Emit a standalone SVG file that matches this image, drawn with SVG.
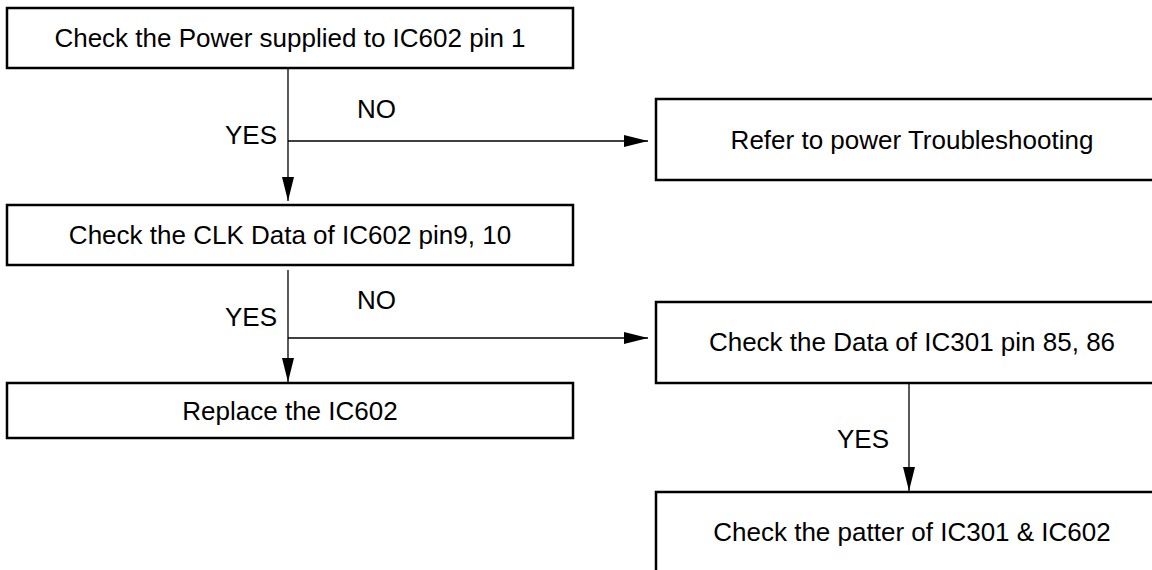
<svg xmlns="http://www.w3.org/2000/svg" width="1152" height="570" viewBox="0 0 1152 570">
<defs>
<style>
.box{fill:#fff;stroke:#000;stroke-width:2.5}
.lbl{font-family:"Liberation Sans",Arial,sans-serif;font-size:26px;fill:#000}
.c{text-anchor:middle}
.conn{stroke:#000;stroke-width:1.3;fill:none}
</style>
<marker id="ah" markerUnits="userSpaceOnUse" markerWidth="24" markerHeight="12" refX="24" refY="6" orient="auto" viewBox="0 0 24 12">
<path d="M0,0 L24,6 L0,12 z" fill="#000"/>
</marker>
</defs>
<rect width="1152" height="570" fill="#fff"/>
<g id="connectors">
<line class="conn" x1="288" y1="68" x2="288" y2="201" marker-end="url(#ah)"/>
<line class="conn" x1="288" y1="141" x2="648" y2="141" marker-end="url(#ah)"/>
<line class="conn" x1="288" y1="270" x2="288" y2="382" marker-end="url(#ah)"/>
<line class="conn" x1="288" y1="338" x2="648" y2="338" marker-end="url(#ah)"/>
<line class="conn" x1="909" y1="383" x2="909" y2="491" marker-end="url(#ah)"/>
<text class="lbl" x="277" y="144" text-anchor="end">YES</text>
<text class="lbl" x="357" y="118">NO</text>
<text class="lbl" x="277" y="326" text-anchor="end">YES</text>
<text class="lbl" x="357" y="309">NO</text>
<text class="lbl" x="889" y="448" text-anchor="end">YES</text>
</g>
<g id="n1">
<rect class="box" x="7" y="8" width="566" height="60"/>
<text class="lbl c" x="290" y="47">Check the Power supplied to IC602 pin 1</text>
</g>
<g id="n2">
<rect class="box" x="656" y="99" width="560" height="81"/>
<text class="lbl c" x="912" y="149">Refer to power Troubleshooting</text>
</g>
<g id="n3">
<rect class="box" x="7" y="205" width="566" height="60"/>
<text class="lbl c" x="290" y="244">Check the CLK Data of IC602 pin9, 10</text>
</g>
<g id="n4">
<rect class="box" x="656" y="302" width="560" height="81"/>
<text class="lbl c" x="912" y="351">Check the Data of IC301 pin 85, 86</text>
</g>
<g id="n5">
<rect class="box" x="7" y="383" width="566" height="55"/>
<text class="lbl c" x="290" y="420">Replace the IC602</text>
</g>
<g id="n6">
<rect class="box" x="656" y="492" width="560" height="120"/>
<text class="lbl c" x="912" y="541">Check the patter of IC301 &amp; IC602</text>
</g>
</svg>
